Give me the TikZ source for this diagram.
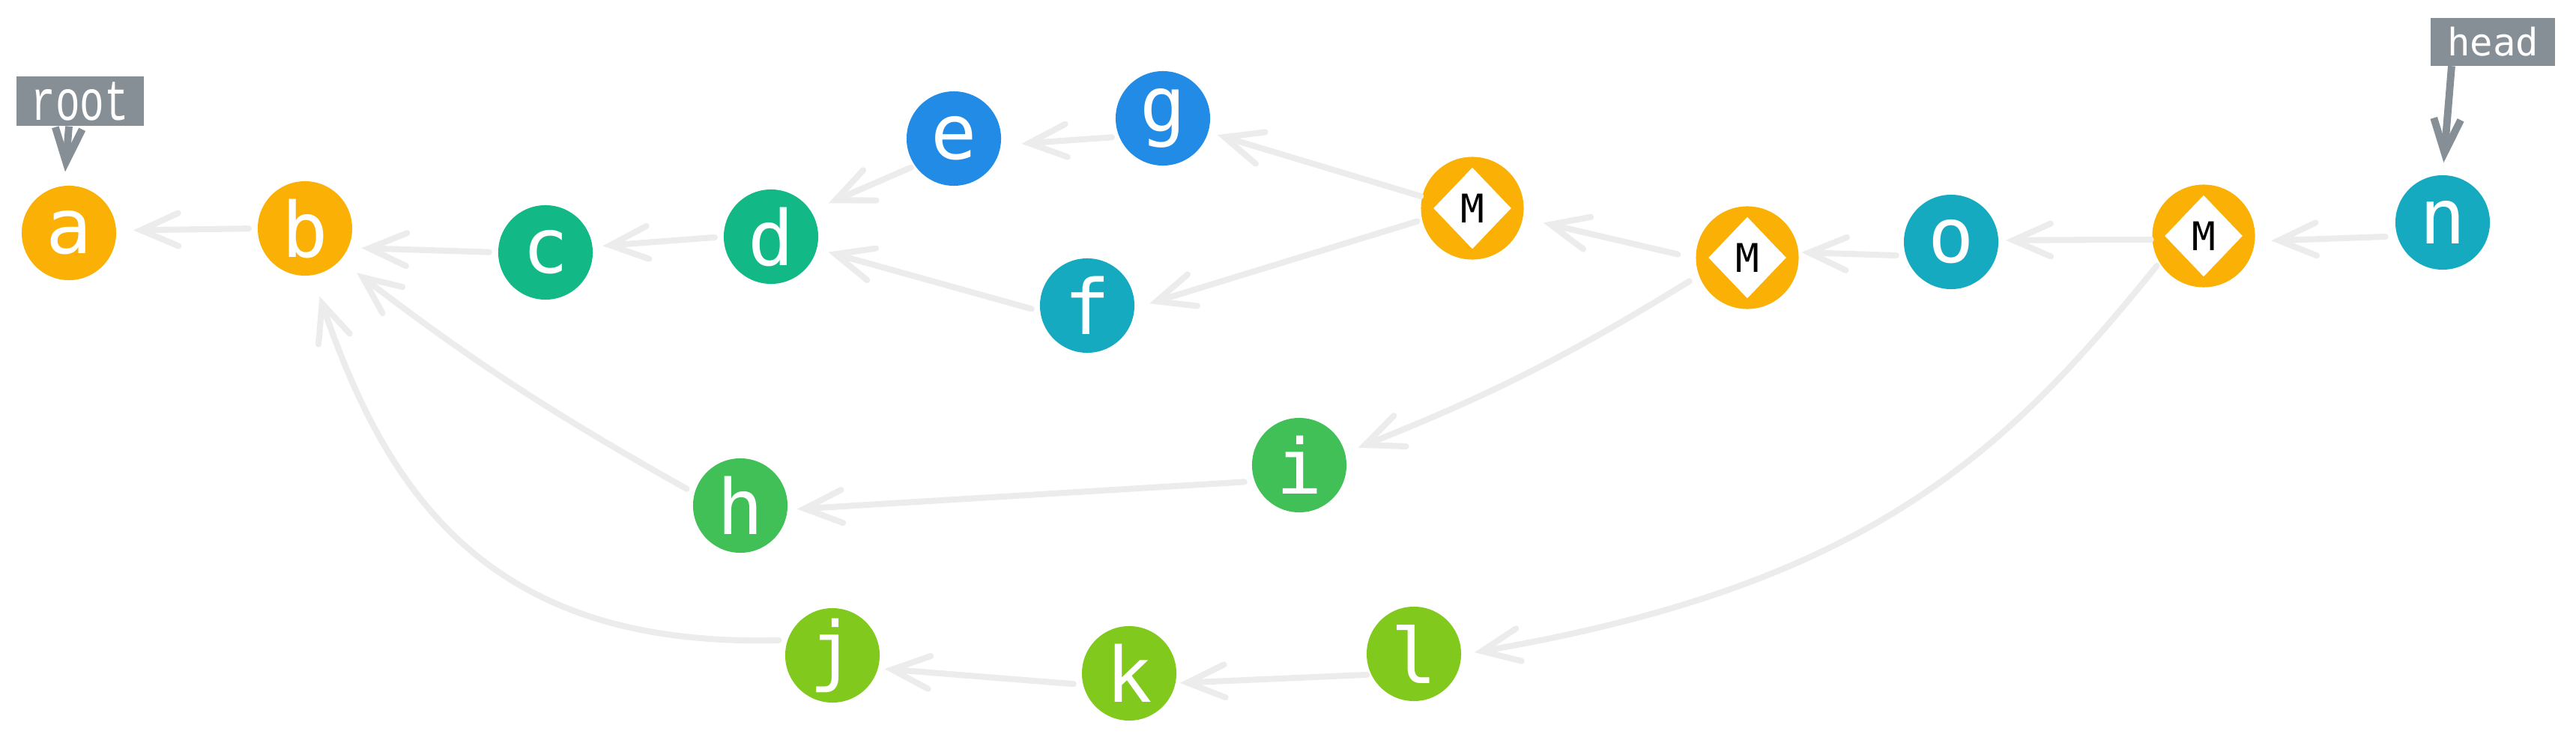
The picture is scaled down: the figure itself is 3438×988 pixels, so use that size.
\documentclass[tikz,border=0pt]{standalone}
\usepackage{fontspec}
\usepackage{graphicx}
\setmonofont{DejaVu Sans Mono}
\newfontfamily\rootfont{Liberation Mono}
\usetikzlibrary{arrows.meta,shapes.geometric,calc}
\definecolor{cyellow}{RGB}{250,176,5}
\definecolor{cteal}{RGB}{18,184,134}
\definecolor{cblue}{RGB}{34,139,230}
\definecolor{ccyan}{RGB}{21,170,191}
\definecolor{cgreen}{RGB}{64,192,87}
\definecolor{clime}{RGB}{130,201,30}
\definecolor{cedge}{RGB}{236,236,236}
\definecolor{cgray}{RGB}{134,142,150}
\begin{document}
\begin{tikzpicture}[x=0.01cm,y=-0.01cm,
  vtx/.style={circle, inner sep=0pt, outer sep=0pt, minimum size=1.26cm, text=white,
    font=\fontsize{29}{30}\selectfont\ttfamily},
  mrg/.style={circle, fill=cyellow, inner sep=0pt, outer sep=0pt, minimum size=1.37cm},
  mdia/.style={diamond, fill=white, inner sep=0pt, minimum width=1.04cm, minimum height=1.09cm,
    text=black, font=\fontsize{15}{16}\selectfont\ttfamily},
  edge/.style={draw=cedge, line width=2.3pt, line cap=round,
    -{Straight Barb[length=5mm,width=4.4mm,line cap=round]}, shorten >=0.18cm, shorten <=0.12cm},
  lbl/.style={fill=cgray, text=white, inner sep=0pt},
  lblarrow/.style={draw=cgray, line width=2.8pt,
    -{Straight Barb[length=4.5mm,width=3.6mm]}}
]
\useasboundingbox (0,0) rectangle (3438,988);

% vertices
\node[vtx, fill=cyellow] (a) at (92,311) {a};
\node[vtx, fill=cyellow] (b) at (407,305) {b};
\node[vtx, fill=cteal] (c) at (728,337) {c};
\node[vtx, fill=cteal] (d) at (1029,316) {d};
\node[vtx, fill=cblue] (e) at (1273,185) {e};
\node[vtx, fill=cblue] (g) at (1552,158) {g};
\node[vtx, fill=ccyan] (f) at (1451,408) {f};
\node[vtx, fill=ccyan] (o) at (2604,323) {o};
\node[vtx, fill=ccyan] (n) at (3260,297) {n};
\node[vtx, fill=cgreen] (h) at (988,675) {h};
\node[vtx, fill=cgreen] (i) at (1734,621) {i};
\node[vtx, fill=clime] (j) at (1111,875) {j};
\node[vtx, fill=clime] (k) at (1507,899) {k};
\node[vtx, fill=clime] (l) at (1887,873) {l};

% merge nodes
\node[mrg] (m1) at (1965,278) {};
\node[mdia] (m1d) at (m1) {M};
\node[mrg] (m2) at (2332,344) {};
\node[mdia] (m2d) at (m2) {M};
\node[mrg] (m3) at (2941,315) {};
\node[mdia] (m3d) at (m3) {M};

% labels
\node[lbl, minimum width=1.70cm, minimum height=0.66cm] (root) at (107,135)
  {\scalebox{1}[1.4]{\fontsize{15.5}{16}\selectfont\rootfont root}};
\node[lbl, minimum width=1.65cm, minimum height=0.63cm] (head) at (3327,56)
  {\fontsize{14.4}{15}\selectfont\ttfamily head};

\draw[lblarrow, shorten >=0.19cm] ([xshift=-0.15cm]root.south) -- (a.96);
\draw[lblarrow, shorten >=0.17cm] ([xshift=-0.55cm]head.south) -- (n.north);

% edges
\draw[edge, shorten >=0.23cm] (b.180) -- (a.3);
\draw[edge] (c.180) -- (b.-24);
\draw[edge, shorten >=0.14cm] (d.180) -- (c.7);
\draw[edge, shorten <=0.06cm, shorten >=0.26cm] (e.215) -- (d.33);
\draw[edge, shorten >=0.16cm] (f.187) -- (d.-15);
\draw[edge, shorten <=0.1cm, shorten >=0.28cm] (g.203) -- (e.-8);
\draw[edge, shorten <=0.02cm, shorten >=0.13cm] (m1.167) -- (g.-17);
\draw[edge, shorten <=0.07cm, shorten >=0.21cm] (m1.193) -- (f.-3);
\draw[edge, shorten <=0.25cm, shorten >=0.28cm] (m2.181) -- (m1.-11);
\draw[edge, shorten <=0.15cm, shorten >=0.19cm] (m2.200) to[bend left=5] (i.15);
\draw[edge, shorten <=0.13cm, shorten >=0.04cm] (o.197) -- (m2.6);
\draw[edge, shorten <=0.02cm, shorten >=0.1cm] (m3.184) -- (o.2);
\draw[edge, shorten <=0.16cm, shorten >=0.22cm] (n.197) -- (m3.-6);
\draw[edge, shorten <=0.06cm] (m3.211) .. controls (2680,600) and (2500,780) .. (l.-1);
\draw[edge, shorten <=0.14cm, shorten >=0.13cm] (i.200) -- (h.-5);
\draw[edge, shorten >=0.28cm] (h.165) to[bend left=4] (b.-42);
\draw[edge, shorten >=0.3cm] (j.161) .. controls (660,865) and (520,670) .. (b.-81);
\draw[edge, shorten <=0.13cm, shorten >=0.09cm] (k.194) -- (j.-16);
\draw[edge, shorten <=0.06cm, shorten >=0.06cm] (l.206) -- (k.-12);
\end{tikzpicture}
\end{document}
